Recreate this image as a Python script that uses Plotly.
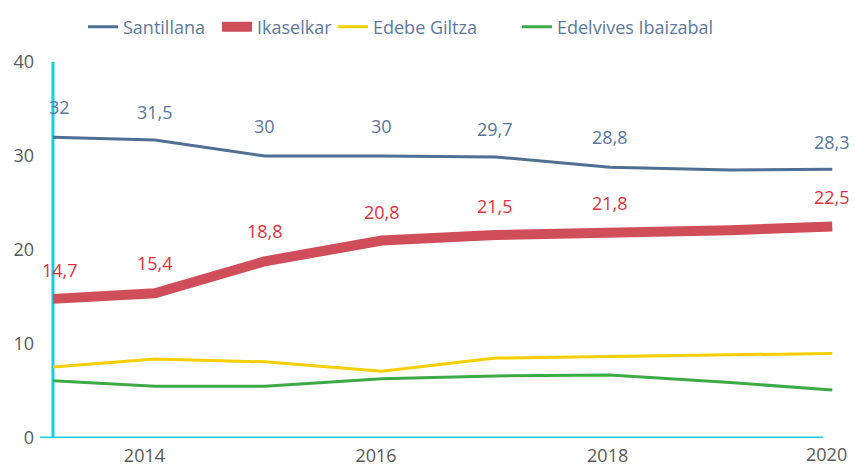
import plotly.graph_objects as go

years = [2013.21, 2014.09, 2015.04, 2016.05, 2017.03, 2018.02, 2019.06, 2019.94]

santillana = [32.0, 31.7, 30.0, 30.0, 29.9, 28.8, 28.5, 28.6]
ikaselkar = [14.8, 15.4, 18.8, 21.0, 21.6, 21.8, 22.1, 22.5]
edebe_giltza = [7.55, 8.4, 8.1, 7.1, 8.5, 8.65, 8.8, 9.0]
edelvives = [6.1, 5.5, 5.5, 6.3, 6.6, 6.7, 5.9, 5.1]

santillana_labels = [32, 31.5, 30, 30, 29.7, 28.8, None, 28.3]
ikaselkar_labels = [14.7, 15.4, 18.8, 20.8, 21.5, 21.8, None, 22.5]

x_ticks = [2014, 2016, 2018]
x_last_tick = 2020  # drawn as a label nudged left so it stays inside the page
y_ticks = [0, 10, 20, 30, 40]

FONT = "Open Sans"
CYAN = "#14cde6"
TICK_COLOR = "#595959"
W, H = 855, 466

series = [
    ("Santillana", santillana, "#4f6f93", 3, 123),
    ("Ikaselkar", ikaselkar, "#d04e5a", 10, 257),
    ("Edebe Giltza", edebe_giltza, "#f5cf00", 3, 373),
    ("Edelvives Ibaizabal", edelvives, "#3daa48", 3, 557),
]

fig = go.Figure()
legend_layouts = {}
for i, (name, vals, color, width, text_x) in enumerate(series):
    lg = "legend" if i == 0 else "legend%d" % (i + 1)
    fig.add_trace(go.Scatter(x=years, y=vals, name=name, mode="lines",
                             line=dict(color=color, width=width), legend=lg))
    legend_layouts[lg] = dict(
        orientation="h", xref="container", yref="container",
        x=(text_x - 40) / W, xanchor="left", y=1 - 27 / H, yanchor="middle",
        font=dict(family=FONT, size=18, color="#5b7a9d"),
        bgcolor="rgba(0,0,0,0)", borderwidth=0, itemwidth=30)

def fmt(v):
    return ("%g" % v).replace(".", ",")

annotations = []
for labels, color in ((santillana_labels, "#56779c"), (ikaselkar_labels, "#e0313c")):
    for i, (xv, v) in enumerate(zip(years, labels)):
        if v is None:
            continue
        annotations.append(dict(x=xv, y=v, xref="x", yref="y", text=fmt(v),
                                showarrow=False, yshift=30, xshift=7 if i == 0 else 0,
                                font=dict(family=FONT, size=18, color=color)))

annotations.append(dict(x=x_last_tick, y=0, xref="x", yref="y", text=str(x_last_tick),
                        showarrow=False, yanchor="middle", yshift=-16, xshift=-13,
                        borderpad=0,
                        font=dict(family=FONT, size=18, color=TICK_COLOR)))

shapes = [
    dict(type="line", xref="x", yref="paper", x0=years[0], x1=years[0], y0=0, y1=1,
         line=dict(color=CYAN, width=3), layer="below"),
    dict(type="line", xref="paper", yref="y", x0=0, x1=0.973, y0=0, y1=0,
         line=dict(color=CYAN, width=3), layer="below"),
]

fig.update_layout(
    width=W, height=H,
    margin=dict(l=40, r=10, t=62, b=28, autoexpand=False),
    plot_bgcolor="white", paper_bgcolor="white",
    font=dict(family=FONT, size=18, color=TICK_COLOR),
    showlegend=True,
    xaxis=dict(range=[2013.098, 2020.05], tickvals=x_ticks,
               showgrid=False, zeroline=False, showline=False, ticks="",
               ticklabelstandoff=5, automargin=False,
               tickfont=dict(family=FONT, size=18, color=TICK_COLOR)),
    yaxis=dict(range=[0, 40], tickvals=y_ticks, showgrid=False, zeroline=False,
               showline=False, ticks="", ticklabelstandoff=5, automargin=False,
               tickfont=dict(family=FONT, size=18, color=TICK_COLOR)),
    annotations=annotations,
    shapes=shapes,
    **legend_layouts,
)

fig.write_html("out.html")
